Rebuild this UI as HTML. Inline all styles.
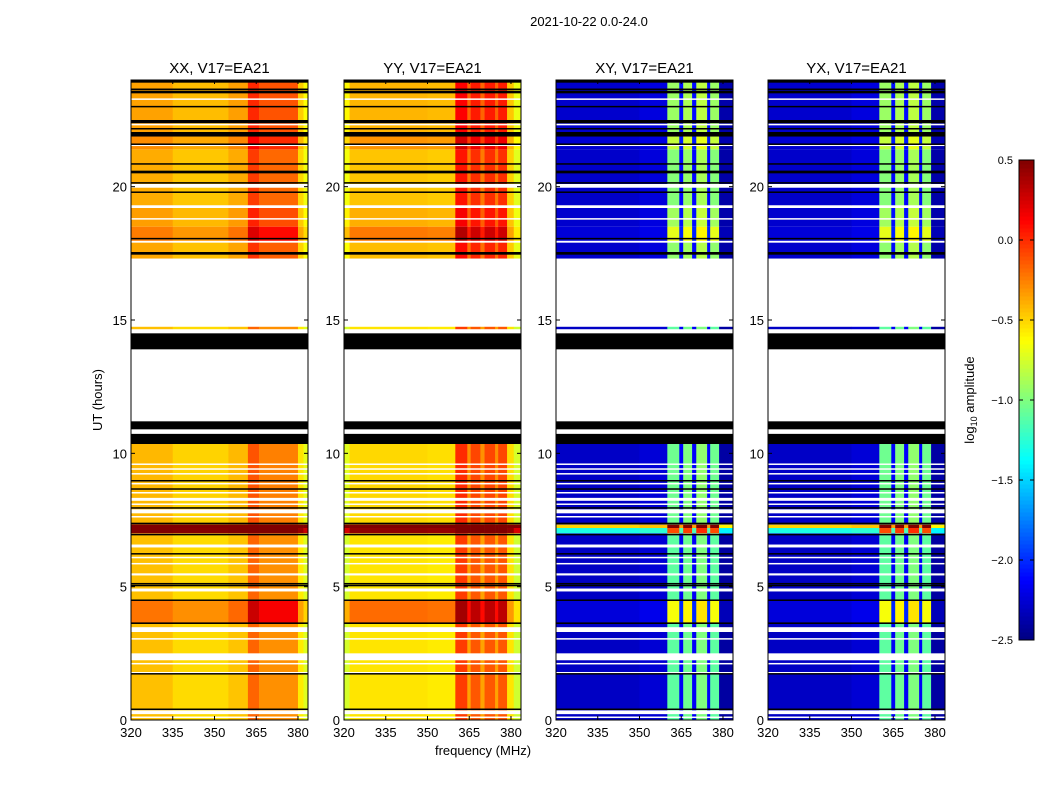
<!DOCTYPE html>
<html><head><meta charset="utf-8"><style>
body{margin:0;background:#fff;font-family:"Liberation Sans",sans-serif;}
svg text{font-family:"Liberation Sans",sans-serif;}
</style></head><body>
<svg id="fig" width="1050" height="800" xmlns="http://www.w3.org/2000/svg">
<rect width="1050" height="800" fill="#fff"/>
<text x="589" y="26" font-size="13" text-anchor="middle">2021-10-22 0.0-24.0</text>
<text x="483" y="755" font-size="13" text-anchor="middle">frequency (MHz)</text>
<text x="102" y="400" font-size="13" text-anchor="middle" transform="rotate(-90 102 400)">UT (hours)</text>
<text x="974" y="400" font-size="13" text-anchor="middle" transform="rotate(-90 974 400)">log<tspan font-size="9" dy="3">10</tspan><tspan dy="-3"> amplitude</tspan></text>
</svg>
<script>
const panelTitles=["XX, V17=EA21","YY, V17=EA21","XY, V17=EA21","YX, V17=EA21"];
const panelBase=[-0.47,-0.55,-2.3,-2.3];
const xTicks=[320,335,350,365,380];
const yTicks=[0,5,10,15,20];
const cbTicks=[0.5,0.0,-0.5,-1.0,-1.5,-2.0,-2.5];
// frequency bands: [start MHz, end MHz, offset, boost weight]
const bandsXX=[[320,335,0.03,0.5],[335,355,-0.05,0.5],[355,362,0.02,0.6],[362,366,0.3,1],[366,380,0.17,1],[380,382,-0.1,0.5],[382,383.6,-0.25,0.5]];
const bandsYY=[[320,322,-0.2,0.8],[322,350,0,0.8],[350,360,-0.02,0.8],[360,364.3,0.5,1],[364.3,365.5,0.2,1],[365.5,369,0.42,1],[369,370.5,0.2,1],[370.5,374.3,0.42,1],[374.3,375.4,0.2,1],[375.4,378.6,0.42,1],[378.6,381,0,0.5],[381,383.6,-0.22,0.5]];
const bandsXY=[[320,350,0,0.15],[350,360,0.05,0.15],[360,364.3,1.2,1],[364.3,365.7,0.15,0.3],[365.7,368.9,1.25,1],[368.9,370.4,0.15,0.3],[370.4,374.3,1.3,1],[374.3,375.4,0.15,0.3],[375.4,378.6,1.2,1],[378.6,383.6,-0.1,0.15]];
const bandsYX=[[320,350,0,0.15],[350,360,0.05,0.15],[360,364.3,1.2,1],[364.3,365.7,0.15,0.3],[365.7,368.9,1.25,1],[368.9,370.4,0.15,0.3],[370.4,374.3,1.3,1],[374.3,375.4,0.15,0.3],[375.4,378.6,1.2,1],[378.6,383.6,-0.1,0.15]];
const panelBands=[bandsXX,bandsYY,bandsXY,bandsYX];
// data spans in hours: [start, end, boost, uniform(1 = ignore band weight)]
const dataSpans=[[0,3.63,0,0],[3.63,4.5,0.45,0],[4.5,7.0,0,0],[7.0,7.2,1.0,1],[7.2,7.33,1.8,1],[7.33,10.35,0.05,0],[14.65,14.75,0,0],[17.3,17.95,0.15,0],[17.95,18.5,0.4,0],[18.5,19.3,0.2,0],[19.3,21.4,0.12,0],[21.4,22.0,0.3,0],[22.0,24,0.18,0]];
const blackSpans=[[10.35,10.73],[10.9,11.2],[13.9,14.5],[0.38,0.43],[1.72,1.76],[3.6,3.66],[4.47,4.52],[5.03,5.07],[5.1,5.14],[6.22,6.26],[6.93,6.98],[7.34,7.4],[7.94,7.98],[8.65,8.69],[8.95,9.0],[17.45,17.55],[18.03,18.08],[19.78,19.82],[20.13,20.17],[20.5,20.6],[20.83,20.88],[21.58,21.62],[21.88,22.05],[22.15,22.2],[22.38,22.5],[22.98,23.03],[23.5,23.6],[23.63,23.68],[23.9,24]];
const whiteSpans=[[11.2,13.9],[14.75,17.3],[10.73,10.9],[14.5,14.65],[14.05,14.1],[0.22,0.36],[0.1,0.13],[1.76,1.8],[2.1,2.14],[2.24,2.5],[3.03,3.07],[3.3,3.48],[4.82,4.93],[5.42,5.5],[5.85,5.89],[6.08,6.12],[6.47,6.58],[7.6,7.65],[7.75,7.9],[8.08,8.12],[8.22,8.33],[8.5,8.55],[8.85,8.89],[9.22,9.26],[9.4,9.44],[9.58,9.62],[17.9,17.97],[18.78,18.82],[19.2,19.3],[19.96,20.1],[21.55,21.58],[22.3,22.36],[23.28,23.31]];

const svg=document.getElementById('fig');
const NS='http://www.w3.org/2000/svg';
const PX=[131,344,556,768], PW=177, PT=80, PB=720, FMIN=320, FMAX=383.6;
function xs(p,f){return PX[p]+(f-FMIN)/(FMAX-FMIN)*PW;}
function ys(h){return PB-h/24*(PB-PT);}
function jet(v){
  let t=(v+2.5)/3; t=Math.max(0,Math.min(1,t));
  const c=x=>Math.round(255*Math.max(0,Math.min(1,x)));
  const r=Math.min(4*t-1.5,-4*t+4.5), g=Math.min(4*t-0.5,-4*t+3.5), b=Math.min(4*t+0.5,-4*t+2.5);
  return `rgb(${c(r)},${c(g)},${c(b)})`;
}
function el(tag,attrs,parent){const e=document.createElementNS(NS,tag);for(const k in attrs)e.setAttribute(k,attrs[k]);(parent||svg).appendChild(e);return e;}

for(let p=0;p<4;p++){
  const g=el('g',{});
  
  
  for(const s of dataSpans){
    for(const b of panelBands[p]){
      const w=s[3]?1:b[3];
      const v=panelBase[p]+b[2]+s[2]*w;
      const y1=ys(s[1]), y0=ys(s[0]);
      const r=el('rect',{x:xs(p,b[0]).toFixed(2),y:y1.toFixed(2),width:(xs(p,b[1])-xs(p,b[0])+0.3).toFixed(2),height:Math.max(1.5,y0-y1).toFixed(2),fill:jet(v)},g);
      
      
    }
  }
  for(const s of whiteSpans){
    const y1=ys(Math.max(s[0],s[1])), y0=ys(Math.min(s[0],s[1]));
    const r=el('rect',{x:PX[p],y:y1.toFixed(2),width:PW,height:Math.max(1.5,y0-y1).toFixed(2),fill:'#fff'},g);
    
    
  }
  for(const s of blackSpans){
    const y1=ys(s[1]), y0=ys(s[0]);
    const r=el('rect',{x:PX[p],y:y1.toFixed(2),width:PW,height:Math.max(1.5,y0-y1).toFixed(2),fill:'#000'},g);
    
    
  }
  const fr=el('rect',{x:PX[p],y:PT,width:PW,height:PB-PT,fill:'none',stroke:'#000','stroke-width':1},g);
  
  
  const t=el('text',{x:PX[p]+PW/2,y:73,'font-size':15,'text-anchor':'middle'},g);
  t.textContent=panelTitles[p];
  
  
  for(const f of xTicks){
    const x=xs(p,f);
    el('line',{x1:x,x2:x,y1:PB,y2:PB-4,stroke:'#000'},g);
    el('line',{x1:x,x2:x,y1:PT,y2:PT+4,stroke:'#000'},g);
    const lt=el('text',{x:x,y:PB+17,'font-size':13,'text-anchor':'middle'},g);
    lt.textContent=f;
    
    
  }
  for(const h of yTicks){
    const y=ys(h);
    el('line',{x1:PX[p],x2:PX[p]+4,y1:y,y2:y,stroke:'#000'},g);
    el('line',{x1:PX[p]+PW,x2:PX[p]+PW-4,y1:y,y2:y,stroke:'#000'},g);
    const lt=el('text',{x:PX[p]-4,y:y+5,'font-size':13,'text-anchor':'end'},g);
    lt.textContent=h;
    
    
  }
}
// colorbar
const cb=el('g',{});


const CBX=1019,CBW=15,CBT=160,CBB=640,N=120;
for(let i=0;i<N;i++){
  const v=-2.5+(i+0.5)/N*3;
  const y=CBB-(i+1)/N*(CBB-CBT);
  el('rect',{x:CBX,y:y.toFixed(2),width:CBW,height:((CBB-CBT)/N+0.5).toFixed(2),fill:jet(v)},cb);
}
el('rect',{x:CBX,y:CBT,width:CBW,height:CBB-CBT,fill:'none',stroke:'#000'},cb);
for(const v of cbTicks){
  const y=CBB-(v+2.5)/3*(CBB-CBT);
  el('line',{x1:CBX,x2:CBX+4,y1:y,y2:y,stroke:'#000'},cb);
  el('line',{x1:CBX+CBW,x2:CBX+CBW-4,y1:y,y2:y,stroke:'#000'},cb);
  const t=el('text',{x:1013,y:y+4,'font-size':11,'text-anchor':'end'},cb);
  t.textContent=(v<0?'\u2212':'')+Math.abs(v).toFixed(1);
  
  
}
</script>
</body></html>
